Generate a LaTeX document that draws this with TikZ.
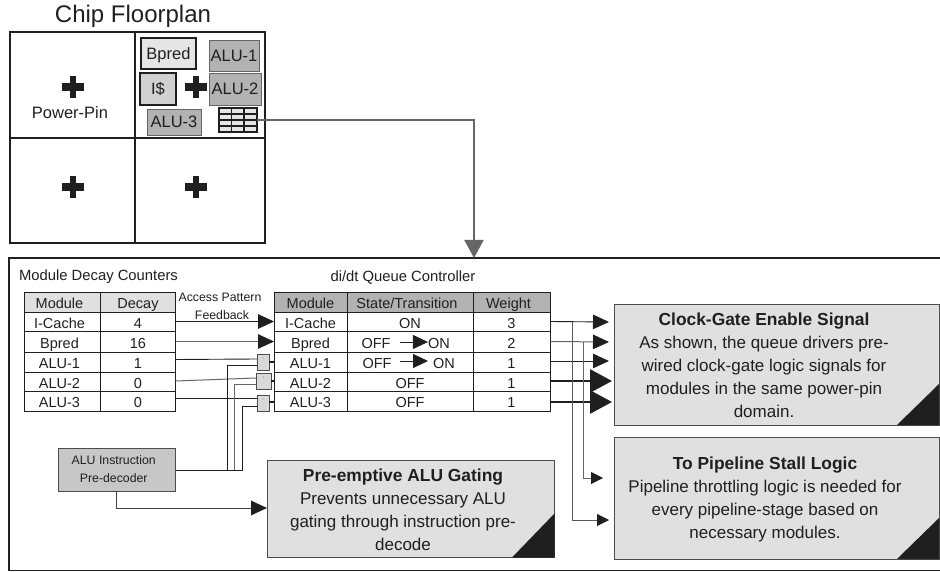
\documentclass[tikz,border=0pt]{standalone}
\usepackage{fontspec}
\setmainfont{Liberation Sans}
\usetikzlibrary{arrows.meta,calc}
\definecolor{ink}{gray}{0.12}
\newcommand\fsz[2]{\fontsize{#1}{#2}\selectfont}
\newcommand\ls[1]{\hspace*{-6pt}#1}
\newcommand\notehd{\fsz{17.4}{23}\bfseries}
\newcommand\rectnode[7][]{%
  \pgfmathsetmacro\rw{#5-#3}\pgfmathsetmacro\rh{#6-#4}%
  \pgfmathsetmacro\rx{(#5+#3)/2}\pgfmathsetmacro\ry{(#6+#4)/2}%
  \node[rectbase,minimum width=\rw pt,minimum height=\rh pt,#1] (#2) at (\rx,\ry) {#7};}
\tikzset{
  rectbase/.style={draw=ink,inner sep=0pt,outer sep=0pt,align=center,text=ink},
  floorcell/.style={line width=1.5pt},
  chipunit/.style={font=\fsz{16.5}{18},text height=12pt,text depth=0pt},
  alubox/.style={chipunit,fill=black!30,draw=black!60,line width=0.8pt},
  keybox/.style={chipunit,line width=1.7pt},
  cell/.style={font=\fsz{14.5}{16},line width=0.9pt,text height=13pt,text depth=0pt},
  headlight/.style={cell,fill=black!12,text height=12pt},
  headdark/.style={cell,fill=black!30,text height=12pt},
  label/.style={inner sep=0pt,text=ink},
  smalllabel/.style={label,font=\fsz{12.3}{14}},
  gate/.style={fill=black!15,draw=black!70,line width=0.9pt},
  note/.style={fill=black!12,draw=black!70,line width=1pt},
  notetext/.style={label,align=center,font=\fsz{17}{23}},
  wire/.style={draw=ink,line width=0.9pt},
  greywire/.style={draw=black!60,line width=1pt},
  boldwire/.style={draw=ink,line width=2.8pt},
  tipM/.style={-{Triangle[length=16pt,width=14.5pt,color=ink]}},
  tipS/.style={-{Triangle[length=12pt,width=12pt,color=ink]}},
  tipL/.style={-{Triangle[length=22pt,width=23pt,color=ink]}},
  tipI/.style={-{Triangle[length=15pt,width=14pt,color=ink]}},
  plusmark/.style={fill=ink,draw=none},
}
\newcommand\plusat[2]{\fill[plusmark] (#1-11,#2-4) rectangle (#1+11,#2+4); \fill[plusmark] (#1-3.3,#2-11) rectangle (#1+3.3,#2+11);}
\begin{document}
\begin{tikzpicture}[x=1pt,y=-1pt]
\useasboundingbox (0,0) rectangle (940,572);
% Chip floorplan
\node[label,font=\fsz{24}{26}] (chiptitle) at (133,16) {Chip Floorplan};
\rectnode[floorcell]{fa}{10}{32}{135}{138}{}
\rectnode[floorcell]{fb}{135}{32}{265}{138}{}
\rectnode[floorcell]{fc}{10}{138}{135}{243}{}
\rectnode[floorcell]{fd}{135}{138}{265}{243}{}
\plusat{73}{87}\plusat{73}{187}\plusat{196}{187}\plusat{196}{87}
\node[label,font=\fsz{16.5}{18}] (pp) at (70,113) {Power-Pin};
\rectnode[keybox,fill=black!10]{bp}{141}{38}{196}{69}{Bpred}
\rectnode[keybox,fill=black!18]{ic}{140}{73}{176}{105}{I\$}
\rectnode[alubox]{af}{209}{40}{259}{71}{ALU-1}
\rectnode[alubox]{as}{209}{73}{261}{105}{ALU-2}
\rectnode[alubox]{at}{147}{109}{201}{135}{ALU-3}
\rectnode[fill=black!10,line width=1.4pt]{icon}{219}{108}{257}{132}{}
\foreach \yy in {114,120,126}{\draw[ink,line width=1.2pt] (219,\yy) -- (257,\yy);}
\foreach \xx in {231.5,244}{\draw[ink,line width=1.4pt] (\xx,108) -- (\xx,132);}
% Frame
\coordinate (ftl) at (9,258);
\coordinate (ftr) at (940,258);
\coordinate (fbl) at (9,570.5);
\coordinate (fbr) at (940,570.5);
\draw[ink,line width=1.6pt] (ftr) -- (ftl) -- (fbl) -- (fbr);
\coordinate (drop) at (474,258);
\draw[draw=black!60,line width=2pt,-{Triangle[length=18pt,width=19pt,color=black!60]}] (icon.east) -| (drop);
% Left table
\node[label,font=\fsz{14.8}{17}] (ldt) at (98.5,277) {Module Decay Counters};
\rectnode[headlight]{lh1}{24.5}{292}{100.5}{312}{\ls{Module}}
\rectnode[headlight]{lh2}{100.5}{292}{175.5}{312}{Decay}
\rectnode[cell]{la1}{24.5}{312}{100.5}{331}{\ls{I-Cache}}
\rectnode[cell]{lb1}{100.5}{312}{175.5}{331}{4}
\rectnode[cell]{la2}{24.5}{331}{100.5}{352}{\ls{Bpred}}
\rectnode[cell]{lb2}{100.5}{331}{175.5}{352}{16}
\rectnode[cell]{la3}{24.5}{352}{100.5}{372}{\ls{ALU-1}}
\rectnode[cell]{lb3}{100.5}{352}{175.5}{372}{1}
\rectnode[cell]{la4}{24.5}{372}{100.5}{391}{\ls{ALU-2}}
\rectnode[cell]{lb4}{100.5}{372}{175.5}{391}{0}
\rectnode[cell]{la5}{24.5}{391}{100.5}{411}{\ls{ALU-3}}
\rectnode[cell]{lb5}{100.5}{391}{175.5}{411}{0}
% Right table
\node[label,font=\fsz{14.8}{17}] (rdt) at (403,278) {di/dt Queue Controller};
\rectnode[headdark]{rh1}{274}{292}{347}{312}{Module}
\rectnode[headdark]{rh2}{347}{292}{473}{312}{\ls{State/Transition}}
\rectnode[headdark]{rh3}{473}{292}{550}{312}{\ls{Weight}}
\rectnode[cell]{ra1}{274}{312}{347}{331}{I-Cache}
\rectnode[cell]{rb1}{347}{312}{473}{331}{ON}
\rectnode[cell]{rc1}{473}{312}{550}{331}{3}
\rectnode[cell]{ra2}{274}{331}{347}{352}{Bpred}
\rectnode[cell]{rb2}{347}{331}{473}{352}{}
\rectnode[cell]{rc2}{473}{331}{550}{352}{2}
\rectnode[cell]{ra3}{274}{352}{347}{372}{ALU-1}
\rectnode[cell]{rb3}{347}{352}{473}{372}{}
\rectnode[cell]{rc3}{473}{352}{550}{372}{1}
\rectnode[cell]{ra4}{274}{372}{347}{391}{ALU-2}
\rectnode[cell]{rb4}{347}{372}{473}{391}{OFF}
\rectnode[cell]{rc4}{473}{372}{550}{391}{1}
\rectnode[cell]{ra5}{274}{391}{347}{411}{ALU-3}
\rectnode[cell]{rb5}{347}{391}{473}{411}{OFF}
\rectnode[cell]{rc5}{473}{391}{550}{411}{1}
\node[label,font=\fsz{14.5}{16},text height=13pt] (off2) at (376,342) {OFF};
\node[label,font=\fsz{14.5}{16},text height=13pt] (on2) at (439,342) {ON};
\node[label,font=\fsz{14.5}{16},text height=13pt] (off3) at (377,362) {OFF};
\node[label,font=\fsz{14.5}{16},text height=13pt] (on3) at (444,362) {ON};
\draw[wire,tipI] (400,342) -- (on2.west);
\draw[wire,tipI] (400,361) -- (428,361);
% Feedback
\node[smalllabel] (fb1) at (220,297) {Access Pattern};
\node[smalllabel] (fb2) at (222,315) {Feedback};
\draw[wire,tipM] (lb1.east) -- (ra1.west);
\draw[greywire,tipM] (lb2.east) -- (ra2.west);
% Gates
\rectnode[gate]{g1}{257}{354}{269}{370}{}
\rectnode[gate]{g2}{256}{373}{271}{389}{}
\rectnode[gate]{g3}{257}{395}{269}{411}{}
\draw[wire] ([yshift=2.5pt]lb3.east) -- (g1.west |- 0,359);
\draw[greywire] ([yshift=0.5pt]lb4.east) -- (g2.west |- 0,378);
\draw[wire] (lb5.east |- 0,398) -- (g3.west |- 0,398);
\draw[wire,line width=1.2pt] (g1.east |- 0,362) -- (ra3.west |- 0,362);
\draw[wire,line width=1.2pt] (g2.east |- 0,381) -- (ra4.west |- 0,381);
\draw[wire,line width=1.2pt] (g3.east |- 0,402) -- (ra5.west |- 0,402);
\foreach \gg in {g1,g2,g3}{\fill[black!60] ([yshift=-4pt]\gg.north) circle (0.5pt);}
% Pre-decoder
\rectnode[fill=black!22,draw=black!70,line width=1pt,font=\fsz{12.3}{18}]{pd}{58}{448}{175.5}{491}{\ls{ALU Instruction}\\\ls{Pre-decoder}}
\draw[wire] (pd.east |- 0,470) -| (227,365) -- (g1.west |- 0,365);
\draw[greywire] (pd.east |- 0,470) -| (234,384) -- (g2.west |- 0,384);
\draw[wire] (pd.east |- 0,470) -| (242,406) -- (g3.west |- 0,406);
% Notes
\rectnode[note]{pre}{267}{460.5}{554.5}{557.5}{}
\fill[ink] (pre.south east) -- ++(-42.5,0) -- ++(42.5,-44) -- cycle;
\node[notetext] (pretx) at (403,510) {{\notehd Pre-emptive ALU Gating}\\Prevents unnecessary ALU\\gating through instruction pre-\\decode};
\draw[greywire,draw=black!75,tipM] (pd.south) |- (pre.west |- 0,508);
\rectnode[note]{clk}{614}{304}{939}{425}{}
\fill[ink] (clk.south east) -- ++(-42,0) -- ++(42,-41) -- cycle;
\node[notetext] (clktx) at (764,365.5) {{\notehd Clock-Gate Enable Signal}\\As shown, the queue drivers pre-\\wired clock-gate logic signals for\\modules in the same power-pin\\domain.};
\rectnode[note]{stall}{614}{437}{939}{559}{}
\fill[ink] (stall.south east) -- ++(-42,0) -- ++(42,-41) -- cycle;
\node[notetext] (stalltx) at (765,499.5) {{\notehd To Pipeline Stall Logic}\\Pipeline throttling logic is needed for\\every pipeline-stage based on\\necessary modules.};
% Outputs
\coordinate (o1) at (609,322);
\coordinate (o2) at (609,342);
\coordinate (o3) at (609,361);
\coordinate (o4) at (612,381);
\coordinate (o5) at (612,402);
\coordinate (s1) at (603,478);
\coordinate (s2) at (609,520);
\draw[wire,tipM] (rc1.east) -- (o1);
\draw[greywire,tipM] (rc2.east) -- (o2);
\draw[wire,tipM] (rc3.east |- o3) -- (o3);
\draw[boldwire,tipL] (rc4.east |- o4) -- (o4);
\draw[boldwire,tipL] (rc5.east |- o5) -- (o5);
\draw[greywire,draw=black!65,tipS] (572,322) |- (s2);
\draw[greywire,tipS] (583,342) |- (s1);
\end{tikzpicture}
\end{document}
